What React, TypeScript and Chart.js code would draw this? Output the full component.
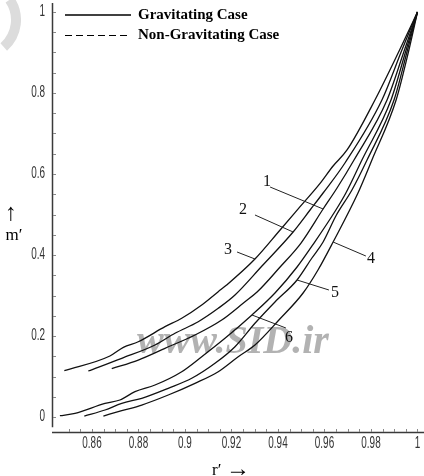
import { useEffect, useRef } from 'react';
import { Chart, registerables } from 'chart.js';

Chart.register(...registerables);

// r' and m' samples for the six mass profiles (all meet at r' = 1, m' = 1)
const r1 = [0.8685, 0.8799, 0.8914, 0.9043, 0.9158, 0.9258, 0.931, 0.9409, 0.9499, 0.9594, 0.9654, 0.9727, 0.9869, 0.9944, 1];
const m1 = [0.1193, 0.1407, 0.1696, 0.2025, 0.2395, 0.2847, 0.3086, 0.3704, 0.4296, 0.5136, 0.5654, 0.6346, 0.7827, 0.9062, 1];

const r2 = [0.8584, 0.8728, 0.8871, 0.8957, 0.9057, 0.9143, 0.9215, 0.9331, 0.9465, 0.9538, 0.9594, 0.9688, 0.9847, 0.9933, 1];
const m2 = [0.1136, 0.1449, 0.1778, 0.2067, 0.2353, 0.2684, 0.3012, 0.3728, 0.4568, 0.5111, 0.5531, 0.6272, 0.7827, 0.9062, 1];

const r3 = [0.8481, 0.8677, 0.8735, 0.8799, 0.8914, 0.8986, 0.9072, 0.9143, 0.9179, 0.9301, 0.9409, 0.9495, 0.9581, 0.9637, 0.9697, 0.9817, 0.9923, 1];
const m3 = [0.1143, 0.1506, 0.1721, 0.1859, 0.223, 0.2437, 0.2765, 0.3094, 0.3259, 0.3901, 0.4617, 0.5193, 0.577, 0.6198, 0.6593, 0.7827, 0.9062, 1];

const r4 = [0.8649, 0.8728, 0.8814, 0.8928, 0.9043, 0.9143, 0.9229, 0.9301, 0.9404, 0.9508, 0.9572, 0.9637, 0.9744, 0.9804, 0.9908, 0.9963, 1];
const m4 = [0.0025, 0.0156, 0.0296, 0.0543, 0.0832, 0.1119, 0.1489, 0.1778, 0.2395, 0.3062, 0.363, 0.4321, 0.5531, 0.6346, 0.7827, 0.9062, 1];

const r5 = [0.8567, 0.8656, 0.8728, 0.8814, 0.8928, 0.9029, 0.9129, 0.9215, 0.9301, 0.9387, 0.9482, 0.9546, 0.9594, 0.9649, 0.9718, 0.9783, 0.9899, 0.9957, 1];
const m5 = [0.0025, 0.0173, 0.0338, 0.0462, 0.0709, 0.0956, 0.1326, 0.1736, 0.2314, 0.284, 0.3383, 0.3926, 0.4321, 0.4963, 0.5605, 0.6346, 0.7827, 0.9062, 1];

const r6 = [0.8462, 0.8527, 0.8656, 0.872, 0.8785, 0.8871, 0.8986, 0.9072, 0.9172, 0.9288, 0.9387, 0.9482, 0.9555, 0.9649, 0.9692, 0.9761, 0.9886, 0.9951, 1];
const m6 = [0.0032, 0.0091, 0.0338, 0.042, 0.0625, 0.079, 0.1119, 0.1489, 0.1943, 0.2519, 0.3062, 0.3704, 0.4296, 0.5111, 0.5531, 0.6346, 0.7827, 0.9062, 1];

const curves = [
  { r: r1, m: m1 },
  { r: r2, m: m2 },
  { r: r3, m: m3 },
  { r: r4, m: m4 },
  { r: r5, m: m5 },
  { r: r6, m: m6 },
];

const xTickValues = [0.86, 0.88, 0.9, 0.92, 0.94, 0.96, 0.98, 1];
const xTickLabels = ['0.86', '0.88', '0.9', '0.92', '0.94', '0.96', '0.98', '1'];
const yTickValues = [0, 0.2, 0.4, 0.6, 0.8, 1];
const yTickLabels = ['0', '0.2', '0.4', '0.6', '0.8', '1'];

// curve numbers: text anchor and leader line, in (r', m') units
const curveTags = [
  { text: '1', at: [0.9353, 0.5802], from: [0.9366, 0.5679], to: [0.9594, 0.5136] },
  { text: '2', at: [0.9249, 0.5111], from: [0.9301, 0.4988], to: [0.9465, 0.4568] },
  { text: '3', at: [0.9185, 0.4123], from: [0.9224, 0.4074], to: [0.9301, 0.3901] },
  { text: '4', at: [0.98, 0.3901], from: [0.9778, 0.3975], to: [0.9637, 0.4321] },
  { text: '5', at: [0.9645, 0.3062], from: [0.9619, 0.3136], to: [0.9482, 0.3383] },
  { text: '6', at: [0.9447, 0.1951], from: [0.9434, 0.2198], to: [0.9288, 0.2519] },
];

const legendItems = ['Gravitating Case', 'Non-Gravitating Case'];

const SERIF = "'Liberation Serif', 'Times New Roman', serif";
const SANS = "'Liberation Sans', Arial, sans-serif";

// condensed tick text: regular sans squeezed horizontally
function narrowText(ctx: CanvasRenderingContext2D, text: string, x: number, y: number, align: 'center' | 'right') {
  const sx = 0.62;
  ctx.save();
  ctx.translate(x, y);
  ctx.scale(sx, 1);
  ctx.textAlign = align;
  ctx.textBaseline = 'middle';
  ctx.fillText(text, 0, 0);
  ctx.restore();
}

const decor = {
  id: 'decor',
  beforeDatasetsDraw(chart: any) {
    const { ctx } = chart;
    ctx.save();
    // faint corner emblem arc
    ctx.strokeStyle = '#dcdcdc';
    ctx.lineWidth = 10;
    ctx.beginPath();
    ctx.arc(-20, 20, 36, -0.6, 0.85);
    ctx.stroke();
    // watermark
    ctx.font = `italic bold 40px ${SERIF}`;
    ctx.fillStyle = 'rgba(165,165,165,0.85)';
    ctx.textBaseline = 'alphabetic';
    ctx.textAlign = 'left';
    ctx.fillText('www.SID.ir', 137, 353);
    ctx.restore();
  },
  afterDraw(chart: any) {
    const { ctx, chartArea } = chart;
    const xs = chart.scales.x;
    const ys = chart.scales.y;
    const px = (v: number) => xs.getPixelForValue(v);
    const py = (v: number) => ys.getPixelForValue(v);
    ctx.save();

    // axes
    ctx.strokeStyle = '#3a3a3a';
    ctx.lineWidth = 1.5;
    ctx.beginPath();
    ctx.moveTo(chartArea.left + 0.5, chartArea.top);
    ctx.lineTo(chartArea.left + 0.5, py(-0.025));
    ctx.moveTo(chartArea.left, chartArea.bottom + 0.5);
    ctx.lineTo(chartArea.right, chartArea.bottom + 0.5);
    ctx.stroke();

    // inward tick marks
    ctx.lineWidth = 1;
    ctx.strokeStyle = '#888';
    ctx.beginPath();
    for (let k = 0; k <= 20; k++) {
      const y = Math.round(py(k * 0.05)) + 0.5;
      ctx.moveTo(chartArea.left + 1, y);
      ctx.lineTo(chartArea.left + 4, y);
    }
    for (let k = 0; k <= 30; k++) {
      const x = Math.round(px(0.85 + k * 0.005)) + 0.5;
      ctx.moveTo(x, chartArea.bottom);
      ctx.lineTo(x, chartArea.bottom - 3);
    }
    ctx.stroke();

    // tick labels
    ctx.fillStyle = '#333';
    ctx.font = `16px ${SANS}`;
    xTickValues.forEach((v, i) => narrowText(ctx, xTickLabels[i], px(v), chartArea.bottom + 12, 'center'));
    yTickValues.forEach((v, i) => narrowText(ctx, yTickLabels[i], chartArea.left - 7, py(v), 'right'));

    // curve numbers with leader lines
    ctx.strokeStyle = '#222';
    ctx.lineWidth = 1;
    ctx.fillStyle = '#111';
    ctx.font = `16px ${SERIF}`;
    ctx.textAlign = 'center';
    ctx.textBaseline = 'middle';
    curveTags.forEach((t) => {
      ctx.beginPath();
      ctx.moveTo(px(t.from[0]), py(t.from[1]));
      ctx.lineTo(px(t.to[0]), py(t.to[1]));
      ctx.stroke();
      ctx.fillText(t.text, px(t.at[0]), py(t.at[1]));
    });

    // legend
    ctx.strokeStyle = '#000';
    ctx.lineWidth = 1.6;
    ctx.beginPath();
    ctx.moveTo(65, 15);
    ctx.lineTo(131, 15);
    ctx.stroke();
    ctx.lineWidth = 1;
    ctx.setLineDash([7, 4]);
    ctx.beginPath();
    ctx.moveTo(65, 35.5);
    ctx.lineTo(131, 35.5);
    ctx.stroke();
    ctx.setLineDash([]);
    ctx.fillStyle = '#000';
    ctx.font = `bold 15px ${SERIF}`;
    ctx.textAlign = 'left';
    ctx.fillText(legendItems[0], 138, 15);
    ctx.fillText(legendItems[1], 138, 35);

    // axis titles
    ctx.textAlign = 'center';
    ctx.font = `24px ${SERIF}`;
    ctx.fillText('\u2191', 11, 214);
    ctx.font = `17px ${SERIF}`;
    ctx.fillText('m\u2032', 14, 236);
    ctx.textAlign = 'left';
    ctx.fillText('r\u2032', 212, 471);
    ctx.font = `24px ${SERIF}`;
    ctx.fillText('\u2192', 226, 470);

    ctx.restore();
  },
};

export default function App() {
  const ref = useRef<HTMLCanvasElement>(null);

  useEffect(() => {
    document.body.style.margin = '0';
    const canvas = ref.current;
    if (!canvas) return;
    const chart = new Chart(canvas, {
      type: 'scatter',
      data: {
        datasets: curves.map((c, i) => ({
          label: `${i + 1}`,
          data: c.r.map((r, j) => ({ x: r, y: c.m[j] })),
          showLine: true,
          borderColor: '#111',
          borderWidth: 1.3,
          pointRadius: 0,
          cubicInterpolationMode: 'monotone' as const,
        })),
      },
      options: {
        animation: false,
        responsive: false,
        maintainAspectRatio: false,
        layout: { padding: { top: 3, left: 0, right: 0, bottom: 0 } },
        plugins: { legend: { display: false }, tooltip: { enabled: false } },
        scales: {
          x: {
            type: 'linear',
            min: 0.8428,
            max: 1.0028,
            afterFit: (s: any) => {
              s.height = 44;
            },
            grid: { display: false, drawTicks: false },
            border: { display: false },
            ticks: { display: false },
          },
          y: {
            type: 'linear',
            min: -0.037,
            max: 1.0222,
            afterFit: (s: any) => {
              s.width = 52;
            },
            grid: { display: false, drawTicks: false },
            border: { display: false },
            ticks: { display: false },
          },
        },
      },
      plugins: [decor],
    });
    return () => chart.destroy();
  }, []);

  return (
    <div style={{ position: 'fixed', left: 0, top: 0, width: 424, height: 476, background: '#fff' }}>
      <canvas ref={ref} width={424} height={476} style={{ width: 424, height: 476, display: 'block' }} />
    </div>
  );
}
